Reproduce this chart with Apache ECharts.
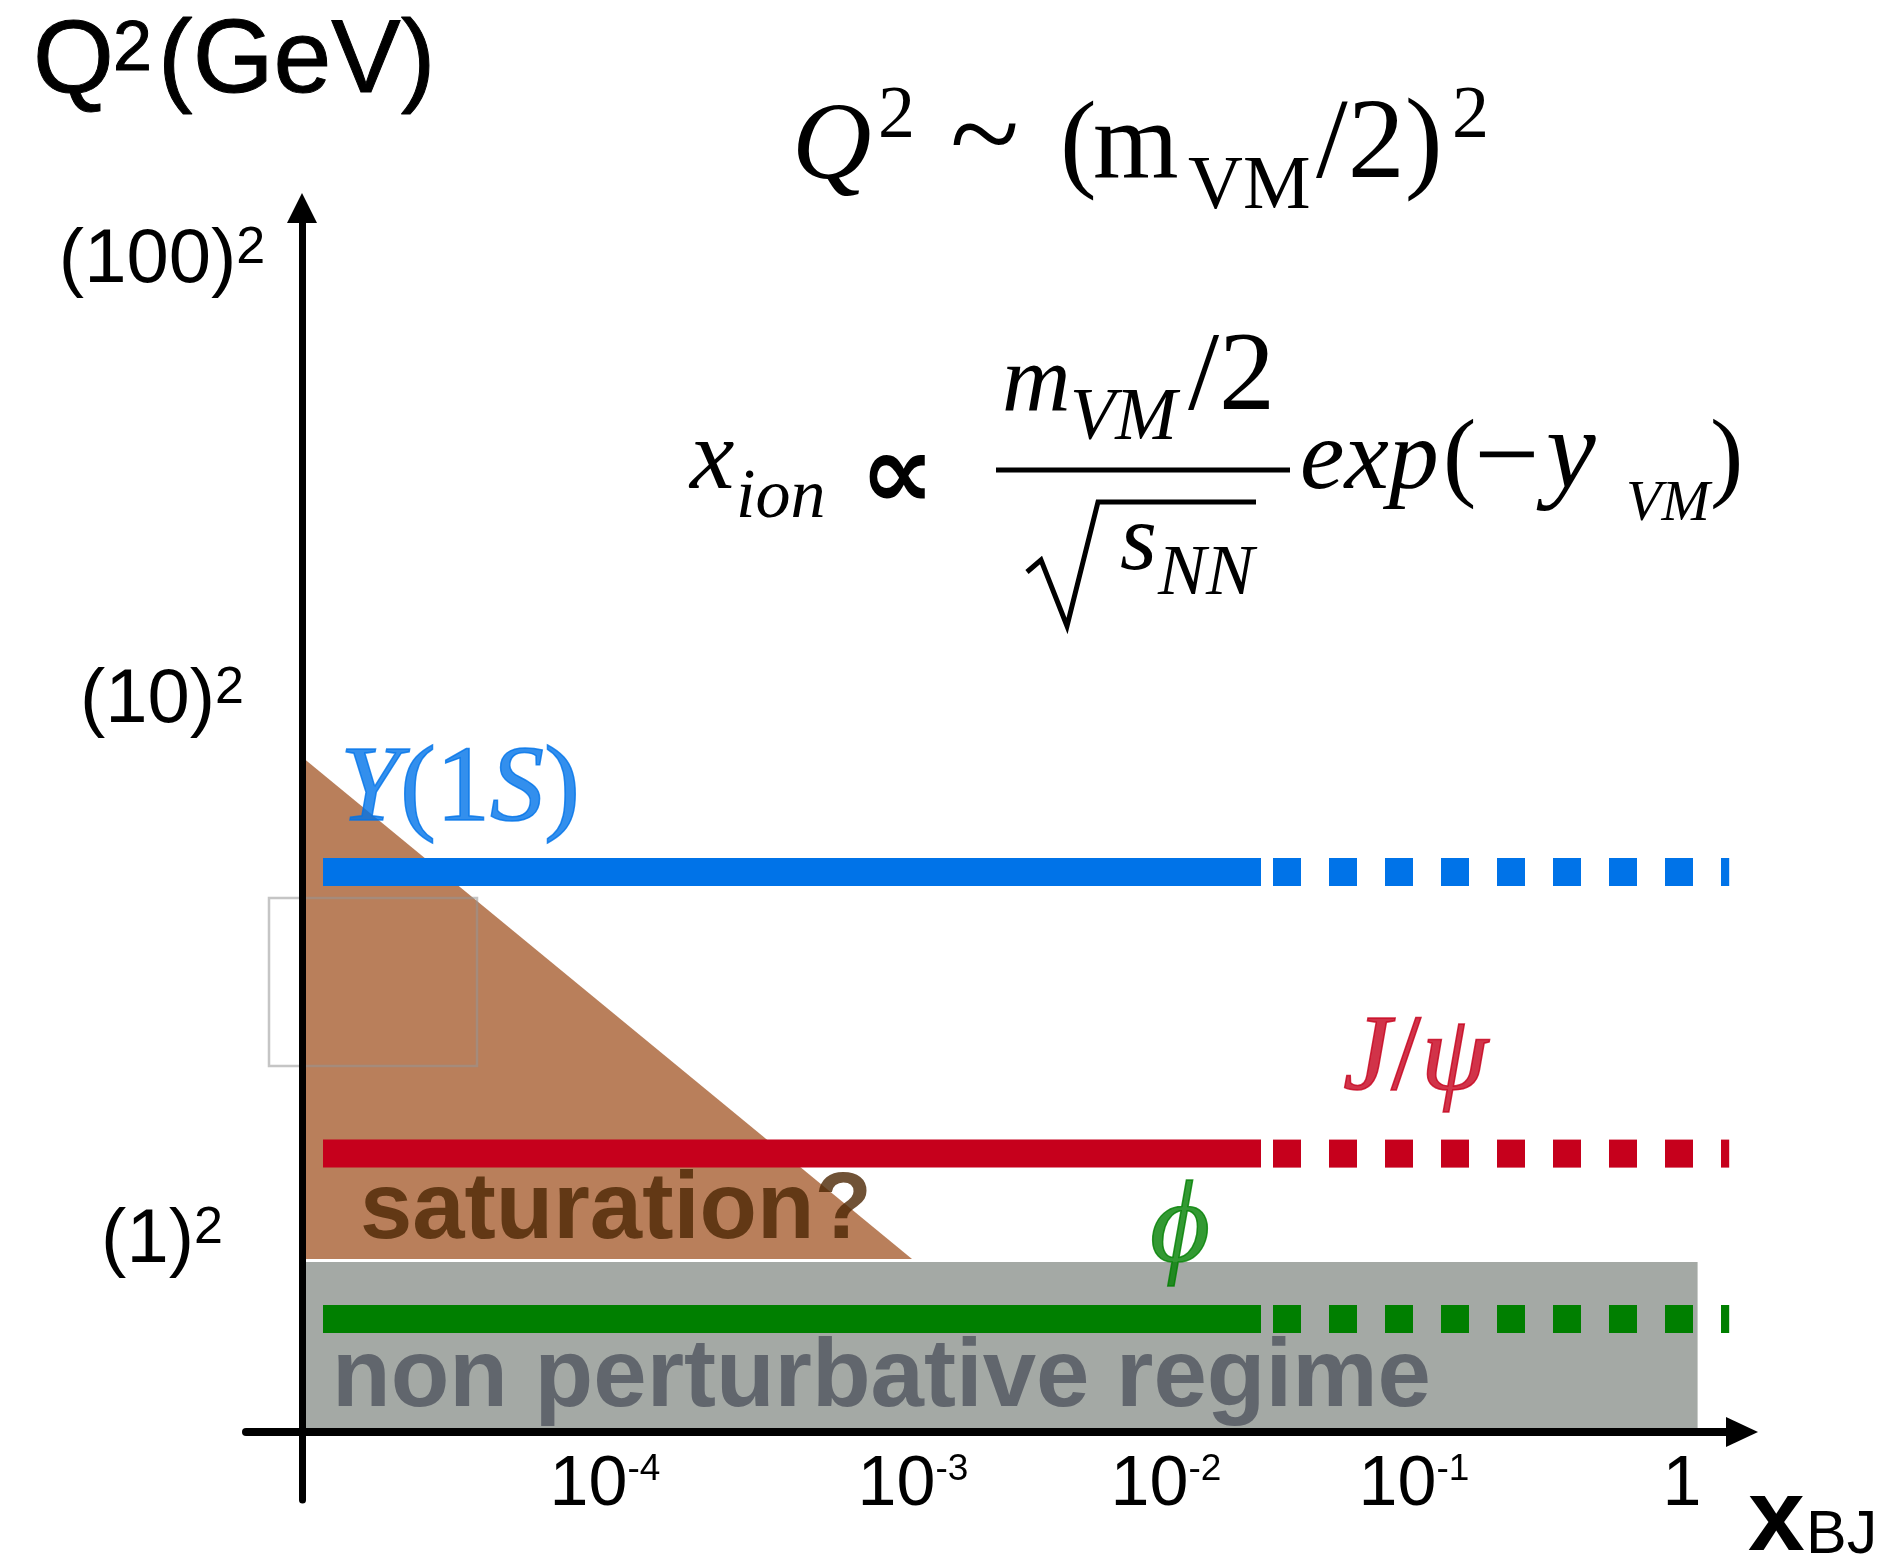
<!DOCTYPE html>
<html><head><meta charset="utf-8">
<script src="https://cdn.jsdelivr.net/npm/echarts@6/dist/echarts.min.js"></script>
<style>html,body{margin:0;padding:0;background:#fff}#c{width:1881px;height:1560px}</style>
</head><body><div id="c"></div>
<script>
// ---------------- data (schematic units: x ~ log x_BJ, y ~ log Q^2) ----------------
const xTickVals  = [75.75, 152.75, 216, 278, 345];
const xTickBase  = ['10', '10', '10', '10', '1'];
const xTickExp   = ['-4', '-3', '-2', '-1', ''];
const yTickVals  = [47.75, 182.75, 292.75];
const yTickBase  = ['(1)', '(10)', '(100)'];
const yTickExp   = ['2', '2', '2'];

const mesons      = ['Y(1S)', 'J/ψ', 'ϕ'];
const mesonQ2     = [140, 69.6, 28.25];          // Q^2 level of each meson band
const solidRange  = [5.25, 239.75];              // x range of solid (measured) part
const dashRange   = [242.75, 356.8];             // x range of dashed (extrapolated) part
const mesonLabelX = [9.5, 260.25, 212];
const mesonLabelY = [160.2, 92.8, 50.5];

const saturationTri  = [[0, 168.75], [0, 43.25], [152.5, 43.25]];
const nonPertRect    = [[0, 0], [348.9, 42.5]];
const insetBox       = [[-8.25, 91.5], [43.75, 133.5]];
const regionNames    = ['saturation?', 'non perturbative regime'];
const regionLabelPos = [[14.5, 55.0], [7.5, 13.0]];

// ---------------- styles ----------------
const SANS = '"Liberation Sans", Arial, Helvetica, sans-serif';
const SERIF = '"Liberation Serif", "Times New Roman", "DejaVu Serif", serif';
const COLORS = ['#0073E8', '#C6001C', '#007F00'];
const BROWN = '#B97F5B', GRAY = '#A4A9A5';

function T(x, base, text, size, o) {
  o = o || {};
  const font = (o.italic ? 'italic ' : '') + (o.bold ? 'bold ' : '') + size + 'px ' + (o.family || SERIF);
  const st = {text: text, font: font, fill: o.color || '#000',
      align: 'left', verticalAlign: 'middle', textAlign: 'left', textVerticalAlign: 'middle'};
  if (o.thick) { st.stroke = o.color || '#000'; st.lineWidth = o.thick; }
  return {type: 'text', x: x, y: base - (o.k || 0.34) * size, z: 20, silent: true, style: st};
}

const graphics = [
  // axis title
  T(33, 100, 'Q', 104, {family: SANS, k: 0.35, thick: 1}),
  T(113, 75, '2', 70, {family: SANS, k: 0.35, thick: 1}),
  T(158, 100, '(GeV)', 104, {family: SANS, k: 0.35, thick: 1}),
  // x_BJ
  T(1748, 1558, 'x', 102, {family: SANS, bold: true, k: 0.35}),
  T(1806, 1558, 'BJ', 61, {family: SANS, k: 0.35}),
  // formula 1 : Q^2 ~ (m_VM/2)^2
  T(792, 186, 'Q', 110, {italic: true}),
  T(878, 143, '2', 74),
  T(950, 186, '~', 128),
  T(1060, 186, '(', 110),
  T(1093, 186, 'm', 110),
  T(1188, 214, 'VM', 76),
  T(1316, 186, '/2)', 114),
  T(1452, 143, '2', 74),
  // formula 2 : x_ion ∝ (m_VM/2)/sqrt(s_NN) exp(-y_VM)
  T(690, 496, 'x', 100, {italic: true}),
  T(736, 522, 'ion', 70, {italic: true}),
  T(860, 516, '∝', 105, {family: '"DejaVu Sans", sans-serif', bold: true}),
  {type: 'line', z: 20, silent: true, shape: {x1: 996, y1: 470, x2: 1290, y2: 470}, style: {stroke: '#000', lineWidth: 5}},
  T(1002, 418, 'm', 95, {italic: true}),
  T(1070, 445, 'VM', 74, {italic: true}),
  T(1188, 418, '/2', 112),
  {type: 'polyline', z: 20, silent: true,
    shape: {points: [[1027, 572], [1041, 560], [1067, 626], [1098, 502], [1256, 502]]},
    style: {stroke: '#000', lineWidth: 5, fill: null, lineJoin: 'miter'}},
  T(1120, 576, 's', 95, {italic: true}),
  T(1158, 600, 'NN', 72, {italic: true}),
  T(1300, 496, 'exp', 100, {italic: true}),
  T(1443, 496, '(', 100),
  T(1474, 502, '−', 116),
  T(1546, 496, 'y', 112, {italic: true}),
  T(1626, 524, 'VM', 58, {italic: true}),
  T(1710, 496, ')', 100)
];

// ---------------- series ----------------
const series = [];
series.push({type: 'custom', coordinateSystem: 'cartesian2d', silent: true, z: 1, data: [[0, 0]],
  renderItem: (p, api) => ({type: 'polygon', shape: {points: saturationTri.map(pt => api.coord(pt))},
    style: {fill: BROWN}})});
series.push({type: 'custom', coordinateSystem: 'cartesian2d', silent: true, z: 1, data: [[0, 0]],
  renderItem: (p, api) => {
    const a = api.coord([nonPertRect[0][0], nonPertRect[1][1]]);
    const b = api.coord([nonPertRect[1][0], nonPertRect[0][1]]);
    return {type: 'rect', shape: {x: a[0], y: a[1], width: b[0] - a[0], height: b[1] - a[1]}, style: {fill: GRAY}};
  }});
series.push({type: 'custom', coordinateSystem: 'cartesian2d', silent: true, z: 2, data: [[0, 0]],
  renderItem: (p, api) => {
    const a = api.coord([insetBox[0][0], insetBox[1][1]]);
    const b = api.coord([insetBox[1][0], insetBox[0][1]]);
    return {type: 'rect', shape: {x: a[0], y: a[1], width: b[0] - a[0], height: b[1] - a[1]},
      style: {fill: 'none', stroke: 'rgba(150,150,150,0.55)', lineWidth: 2.5}};
  }});
mesons.forEach((m, i) => {
  series.push({type: 'line', name: m, silent: true, z: 3, symbol: 'none', animation: false,
    data: [[solidRange[0], mesonQ2[i]], [solidRange[1], mesonQ2[i]]],
    lineStyle: {color: COLORS[i], width: 28, cap: 'butt'}});
  series.push({type: 'line', name: m + ' (extrapolated)', silent: true, z: 3, symbol: 'none', animation: false,
    data: [[dashRange[0], mesonQ2[i]], [dashRange[1], mesonQ2[i]]],
    lineStyle: {color: COLORS[i], width: 28, cap: 'butt', type: [28, 28], dashOffset: 0}});
});
const mesonRich = ['{i|Y}(1{i|S})', '{i|J}/{i|ψ}', '{i|ϕ}'];
const mesonSize = [108, 108, 116];
series.push({type: 'scatter', silent: true, z: 4, symbolSize: 0, animation: false,
  data: mesons.map((m, i) => ({value: [mesonLabelX[i], mesonLabelY[i]],
    label: {show: true, position: [0, 0], align: 'left', verticalAlign: 'middle',
      formatter: mesonRich[i], color: COLORS[i], fontFamily: SERIF, fontSize: mesonSize[i], lineHeight: mesonSize[i],
      textBorderColor: COLORS[i], textBorderWidth: 1.5,
      rich: {i: {fontStyle: 'italic', fontFamily: SERIF, fontSize: mesonSize[i], lineHeight: mesonSize[i],
        color: COLORS[i], textBorderColor: COLORS[i], textBorderWidth: 1.5}}}}))});
const regionStyle = [{color: '#4C2704', fontSize: 94}, {color: '#50555F', fontSize: 96}];
series.push({type: 'scatter', silent: true, z: 4, symbolSize: 0, animation: false,
  data: regionNames.map((n, i) => ({value: regionLabelPos[i],
    label: {show: true, position: [0, 0], align: 'left', verticalAlign: 'middle', formatter: n,
      fontFamily: SANS, fontWeight: 'bold', fontSize: regionStyle[i].fontSize, color: regionStyle[i].color}}))});

const option = {
  backgroundColor: '#fff',
  animation: false,
  grid: {left: 246, right: 139, top: 208, bottom: 60, containLabel: false, outerBoundsMode: 'none'},
  xAxis: {type: 'value', min: -14, max: 360, z: 3,
    axisLine: {show: true, onZero: true, symbol: ['none', 'triangle'], symbolSize: [30, 32],
      lineStyle: {color: '#000', width: 8}},
    axisTick: {show: false}, splitLine: {show: false},
    axisLabel: {show: true, customValues: xTickVals, margin: -49, color: '#000',
      fontFamily: SANS, fontSize: 70, lineHeight: 70,
      formatter: v => {
        const i = xTickVals.findIndex(t => Math.abs(t - v) < 1e-6);
        if (i < 0) return '';
        return xTickBase[i] + (xTickExp[i] ? '{s|' + xTickExp[i] + '}' : '');
      },
      rich: {s: {fontFamily: SANS, fontSize: 37, lineHeight: 60, verticalAlign: 'top', color: '#000'}}}},
  yAxis: {type: 'value', min: -17, max: 306, z: 3,
    axisLine: {show: true, onZero: true, symbol: ['none', 'triangle'], symbolSize: [30, 30],
      lineStyle: {color: '#000', width: 7}},
    axisTick: {show: false}, splitLine: {show: false},
    axisLabel: {show: true, customValues: yTickVals, margin: 84, align: 'center', color: '#000',
      fontFamily: SANS, fontSize: 76, lineHeight: 76,
      formatter: v => {
        const i = yTickVals.findIndex(t => Math.abs(t - v) < 1e-6);
        if (i < 0) return '';
        return yTickBase[i] + '{s|' + yTickExp[i] + '}';
      },
      rich: {s: {fontFamily: SANS, fontSize: 52, lineHeight: 54, verticalAlign: 'top', color: '#000'}}}},
  graphic: {elements: graphics},
  series: series
};
const chart = echarts.init(document.getElementById('c'));
chart.setOption(option);
</script></body></html>
